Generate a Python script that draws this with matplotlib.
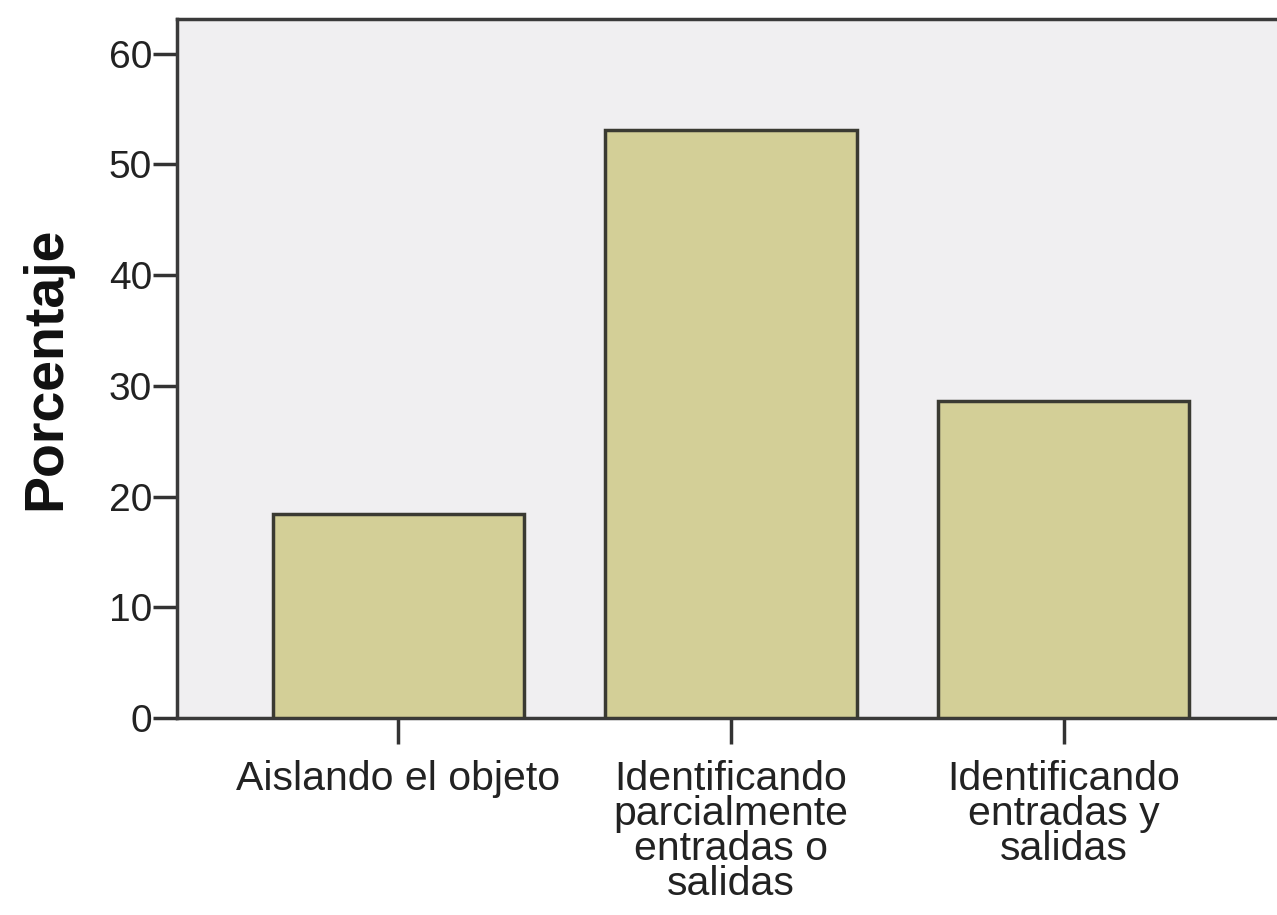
import numpy as np
import matplotlib.pyplot as plt

plt.rcParams['font.family'] = ['Liberation Sans', 'DejaVu Sans']

# datos
categorias = ['Aislando el objeto',
              'Identificando\nparcialmente\nentradas o\nsalidas',
              'Identificando\nentradas y\nsalidas']
porcentaje = [18.4, 53.1, 28.6]

fig = plt.figure(figsize=(12.77, 9.15), dpi=100)
ax = fig.add_axes([0.1386, 0.2153, 0.8614, 0.7637])
ax.set_facecolor('#f0eff1')

x = np.arange(len(categorias))
ax.bar(x, porcentaje, width=0.754, color='#d3cf97', edgecolor='#3a3a32',
       linewidth=2.5, zorder=3)

ax.set_xlim(-0.664, 2.64)
ax.set_ylim(0, 63.1)
ax.set_yticks(range(0, 61, 10))
ax.set_xticks(x)
ax.set_xticklabels(categorias, fontsize=29.5, linespacing=0.9, color='#222222')
ax.tick_params(axis='y', labelsize=28, length=17, width=2.5, pad=1,
               direction='out', colors='#333333', labelcolor='#222222')
ax.tick_params(axis='x', length=19, width=2.5, pad=11, direction='out',
               colors='#333333', labelcolor='#222222')

for s in ['left', 'bottom', 'top']:
    ax.spines[s].set_linewidth(2.5)
    ax.spines[s].set_color('#3a3a3a')
ax.spines['right'].set_visible(False)

ax.set_ylabel('Porcentaje', fontsize=40, fontweight='bold', labelpad=26,
              color='#111111')

fig.savefig('out.png', dpi=100, facecolor='white')
